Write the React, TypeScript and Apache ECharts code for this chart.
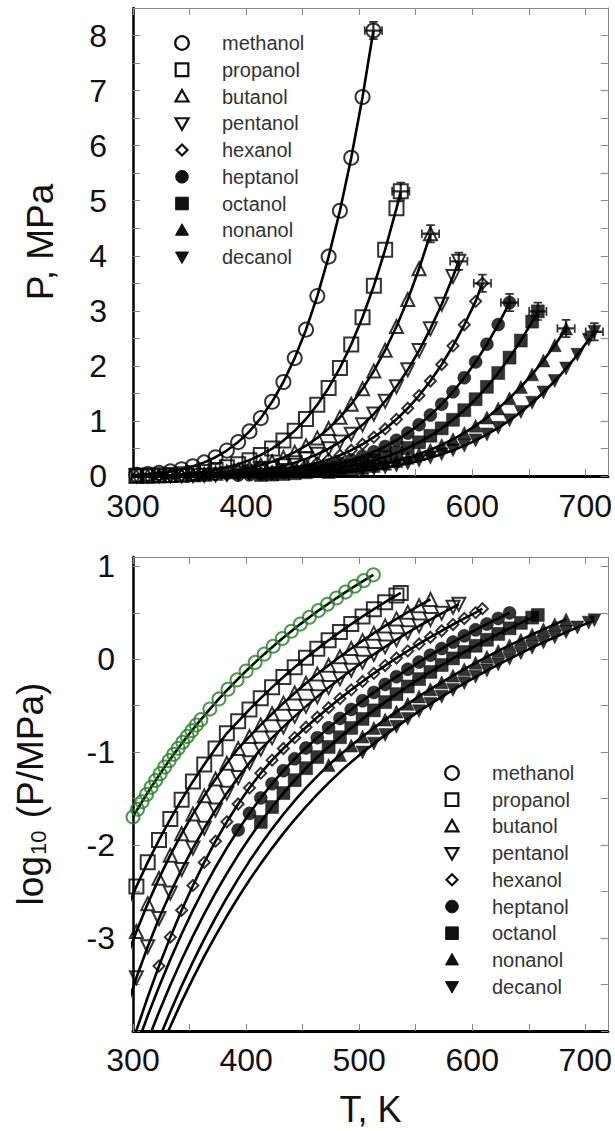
import React, { useEffect, useRef } from "react";
import * as echarts from "echarts";

// Temperature grid (K) shared by the tabulated vapour pressures below.
const tempGrid = [
  293, 303, 313, 323, 333, 343, 353, 363, 373, 383, 393, 403, 413, 423, 433, 443, 453, 463,
  473, 483, 493, 503, 513, 523, 533, 543, 553, 563, 573, 583, 593, 603, 613, 623, 633, 643,
  653, 663, 673, 683, 693, 703,
];

// Saturation pressure, MPa, on tempGrid (each list ends below its critical point).
const methanolP = [
  0.01424, 0.02321, 0.03668, 0.05633, 0.08431, 0.1233, 0.1764, 0.2474, 0.3408, 0.4619, 0.6161,
  0.8101, 1.051, 1.348, 1.707, 2.141, 2.658, 3.268, 3.984, 4.818, 5.78, 6.884,
];
const propanolP = [
  0.001877, 0.003584, 0.006522, 0.01136, 0.01906, 0.03086, 0.04844, 0.07386, 0.1098, 0.1595,
  0.2145, 0.288, 0.3814, 0.4983, 0.6428, 0.82, 1.035, 1.293, 1.6, 1.963, 2.388, 2.883, 3.454,
  4.11, 4.861,
];
const butanolP = [
  0.0005527, 0.001178, 0.002344, 0.00439, 0.007803, 0.01324, 0.02157, 0.03388, 0.05152, 0.07609,
  0.1095, 0.1472, 0.1965, 0.2588, 0.3368, 0.4329, 0.5503, 0.6924, 0.8628, 1.065, 1.304, 1.584,
  1.909, 2.284, 2.715, 3.206, 3.764,
];
const pentanolP = [
  0.0001587, 0.0003735, 0.0008074, 0.001622, 0.003061, 0.005466, 0.009303, 0.01517, 0.02385,
  0.03625, 0.05348, 0.07678, 0.1077, 0.1425, 0.1871, 0.2427, 0.3111, 0.3947, 0.4955, 0.6164,
  0.76, 0.9292, 1.127, 1.358, 1.623, 1.929, 2.278, 2.673, 3.12, 3.622,
];
const hexanolP = [
  0.0000418, 0.0001014, 0.0002317, 0.0005, 0.001023, 0.001991, 0.003681, 0.006516, 0.01102,
  0.01782, 0.02767, 0.0413, 0.05943, 0.08204, 0.1095, 0.1434, 0.1855, 0.2374, 0.3006, 0.377,
  0.4685, 0.5769, 0.7048, 0.8547, 1.029, 1.23, 1.461, 1.725, 2.025, 2.364, 2.746, 3.172,
];
const heptanolP = [
  0.00002965, 0.00006745, 0.0001459, 0.0002999, 0.0005888, 0.001107, 0.001995, 0.003459,
  0.005781, 0.009333, 0.01455, 0.02198, 0.03221, 0.04581, 0.06324, 0.08492, 0.111, 0.1431,
  0.1826, 0.2306, 0.2884, 0.3575, 0.4395, 0.5362, 0.6491, 0.78, 0.9318, 1.106, 1.304, 1.53,
  1.785, 2.072, 2.393, 2.751,
];
const octanolP = [
  0.00001652, 0.00003698, 0.00007889, 0.0001603, 0.0003126, 0.0005834, 0.00105, 0.00182,
  0.003055, 0.004955, 0.007816, 0.01194, 0.01778, 0.0257, 0.03631, 0.05, 0.0673, 0.08851,
  0.1139, 0.1448, 0.1824, 0.2278, 0.2818, 0.3459, 0.4213, 0.5095, 0.6117, 0.7302, 0.8658,
  1.021, 1.196, 1.395, 1.619, 1.87, 2.15, 2.46, 2.804,
];
const nonanolP = [
  0.00000826, 0.00001866, 0.00004009, 0.00008222, 0.0001614, 0.0003048, 0.0005546, 0.0009727,
  0.001652, 0.002716, 0.004335, 0.00673, 0.01016, 0.01496, 0.02148, 0.03013, 0.04121, 0.05534,
  0.07261, 0.09333, 0.1177, 0.1472, 0.1824, 0.2242, 0.2735, 0.3312, 0.3983, 0.4759, 0.565,
  0.6668, 0.7826, 0.914, 1.062, 1.227, 1.412, 1.618, 1.846, 2.098, 2.376,
];
const decanolP = [
  0.00000641, 0.00001403, 0.00002931, 0.00005848, 0.0001119, 0.000207, 0.0003681, 0.0006353,
  0.001062, 0.001726, 0.002729, 0.004207, 0.006324, 0.00929, 0.01337, 0.01884, 0.026, 0.03516,
  0.04677, 0.06109, 0.07834, 0.09908, 0.1235, 0.1527, 0.1873, 0.228, 0.2754, 0.3307, 0.3945,
  0.4677, 0.5514, 0.6466, 0.7542, 0.8752, 1.011, 1.163, 1.331, 1.518, 1.725, 1.952, 2.201,
  2.475,
];

// Denser methanol set used on the logarithmic panel.
const methanolDenseT = [
  300, 304, 308, 312, 316, 320, 324, 328, 332, 336, 340, 344, 348, 352, 356, 360, 368, 376, 384,
  392, 400, 408, 416, 424, 432, 440, 448, 456, 464, 472, 480, 488, 496, 504, 512.6,
];
const methanolDenseP = [
  0.02012, 0.02434, 0.02929, 0.0351, 0.04183, 0.04967, 0.05871, 0.06914, 0.08108, 0.09473,
  0.1103, 0.1279, 0.1478, 0.1703, 0.1956, 0.2239, 0.2911, 0.374, 0.4757, 0.599, 0.747, 0.9243,
  1.134, 1.381, 1.669, 2.002, 2.388, 2.83, 3.336, 3.907, 4.554, 5.283, 6.095, 7.003, 8.091,
];

// Critical points [T (K), P (MPa)].
const criticalPoints = [
  [512.6, 8.091],
  [536.8, 5.17],
  [563.1, 4.4],
  [588.1, 3.9],
  [609, 3.5],
  [633, 3.15],
  [658, 2.99],
  [683, 2.68],
  [708, 2.62],
];

// Lowest measured temperature of each data set (K).
const firstMeasuredT = [303, 303, 303, 303, 323, 393, 413, 473, 503];

const alcoholNames = [
  "methanol", "propanol", "butanol", "pentanol", "hexanol",
  "heptanol", "octanol", "nonanol", "decanol",
];
const pressureTables = [
  methanolP, propanolP, butanolP, pentanolP, hexanolP,
  heptanolP, octanolP, nonanolP, decanolP,
];

const FONT = '"Liberation Sans", Arial, Helvetica, sans-serif';
const DOWN_TRIANGLE = "path://M0,0L12,0L6,10.4Z";
const CROSS =
  "path://M8.8,0H11.2V20H8.8Z M0,8.8H20V11.2H0Z M5.5,0H14.5V1.8H5.5Z M5.5,18.2H14.5V20H5.5Z M0,5.5H1.8V14.5H0Z M18.2,5.5H20V14.5H18.2Z";

type MarkerStyle = { kind: string; hollow: boolean; size: number };
const markerStyles: MarkerStyle[] = [
  { kind: "circle", hollow: true, size: 14 },
  { kind: "square", hollow: true, size: 14 },
  { kind: "up", hollow: true, size: 13 },
  { kind: "down", hollow: true, size: 13 },
  { kind: "diamond", hollow: true, size: 11 },
  { kind: "circle", hollow: false, size: 13 },
  { kind: "square", hollow: false, size: 13 },
  { kind: "up", hollow: false, size: 13 },
  { kind: "down", hollow: false, size: 13 },
];

const GREEN = "#237f23";
const INK = "#000";

function echartsSymbol(kind: string) {
  if (kind === "circle") return "circle";
  if (kind === "square") return "rect";
  if (kind === "up") return "triangle";
  if (kind === "down") return DOWN_TRIANGLE;
  return "diamond";
}

function fullCurve(i: number): number[][] {
  const pts = pressureTables[i].map((p, k) => [tempGrid[k], p]);
  pts.push(criticalPoints[i]);
  return pts;
}

function measured(i: number): number[][] {
  return fullCurve(i).filter((d) => d[0] >= firstMeasuredT[i]);
}

const toLog = (pts: number[][]) => pts.map((d) => [d[0], Math.log10(d[1])]);

const isInt = (v: number) => Math.abs(v - Math.round(v)) < 1e-6;

function markerItemStyle(i: number, stroke: string) {
  return markerStyles[i].hollow
    ? { color: "transparent", borderColor: stroke, borderWidth: 2 }
    : { color: INK, borderColor: INK, borderWidth: 0.5 };
}

function legendGraphics(symbolX: number, textX: number, y0: number, step: number) {
  const els: any[] = [];
  alcoholNames.forEach((name, i) => {
    const cy = y0 + i * step;
    const st = markerStyles[i];
    const style = st.hollow
      ? { fill: "none", stroke: "#111", lineWidth: 2.2 }
      : { fill: "#111", stroke: "#111", lineWidth: 1 };
    const r = st.kind === "diamond" ? 5.5 : 6.5;
    if (st.kind === "circle") {
      els.push({ type: "circle", shape: { cx: symbolX, cy, r: st.hollow ? 6.8 : 6.3 }, style });
    } else if (st.kind === "square") {
      els.push({ type: "rect", shape: { x: symbolX - 6.3, y: cy - 6.3, width: 12.6, height: 12.6 }, style });
    } else if (st.kind === "up") {
      els.push({
        type: "polygon",
        shape: { points: [[symbolX, cy - 6.5], [symbolX + r, cy + 5], [symbolX - r, cy + 5]] },
        style,
      });
    } else if (st.kind === "down") {
      els.push({
        type: "polygon",
        shape: { points: [[symbolX - r, cy - 5], [symbolX + r, cy - 5], [symbolX, cy + 6.5]] },
        style,
      });
    } else {
      els.push({
        type: "polygon",
        shape: { points: [[symbolX, cy - r], [symbolX + r, cy], [symbolX, cy + r], [symbolX - r, cy]] },
        style,
      });
    }
    els.push({
      type: "text",
      x: textX,
      y: cy,
      style: {
        text: name,
        fontFamily: FONT,
        fontSize: 20,
        fill: "#333",
        verticalAlign: "middle",
        align: "left",
      },
    });
  });
  return els;
}

function buildOption() {
  const tickLabel = { fontFamily: FONT, fontSize: 32, color: "#111" };
  const thinFrame = { lineStyle: { color: "#888", width: 1 } };
  const innerTick = { show: true, inside: true, length: 7, lineStyle: { color: "#888", width: 1 } };

  const xMain = (gridIndex: number, margin: number) => ({
    type: "value",
    gridIndex,
    min: 300,
    max: 720,
    interval: 50,
    position: "bottom",
    axisLine: { show: true, onZero: false, lineStyle: { color: "#000", width: 3 } },
    axisTick: innerTick,
    splitLine: { show: false },
    axisLabel: {
      ...tickLabel,
      margin,
      formatter: (v: number) => (v % 100 === 0 && v <= 700 ? String(v) : ""),
    },
  });
  const xFrame = (gridIndex: number) => ({
    type: "value",
    gridIndex,
    min: 300,
    max: 720,
    interval: 50,
    position: "top",
    axisLine: { show: true, onZero: false, ...thinFrame },
    axisTick: innerTick,
    axisLabel: { show: false },
    splitLine: { show: false },
  });
  const yFrame = (gridIndex: number, min: number, max: number) => ({
    type: "value",
    gridIndex,
    min,
    max,
    interval: 0.5,
    position: "right",
    axisLine: { show: true, onZero: false, ...thinFrame },
    axisTick: innerTick,
    axisLabel: { show: false },
    splitLine: { show: false },
  });

  const series: any[] = [];

  // Upper panel: pressure on a linear scale (axes 0).
  alcoholNames.forEach((name, i) => {
    series.push({
      type: "line",
      name: name + " fit",
      xAxisIndex: 0,
      yAxisIndex: 0,
      data: fullCurve(i),
      showSymbol: false,
      lineStyle: { color: INK, width: 2.6 },
      silent: true,
      z: 2,
    });
    series.push({
      type: "scatter",
      name,
      xAxisIndex: 0,
      yAxisIndex: 0,
      data: measured(i),
      symbol: echartsSymbol(markerStyles[i].kind),
      symbolSize: markerStyles[i].size,
      itemStyle: markerItemStyle(i, INK),
      silent: true,
      z: 3,
    });
  });
  series.push({
    type: "scatter",
    name: "critical points",
    xAxisIndex: 0,
    yAxisIndex: 0,
    data: criticalPoints,
    symbol: CROSS,
    symbolSize: 19,
    itemStyle: { color: INK },
    silent: true,
    z: 4,
  });

  // Lower panel: log10 of pressure (axes 2).
  alcoholNames.forEach((name, i) => {
    const linePts =
      i === 0 ? toLog(methanolDenseT.map((t, k) => [t, methanolDenseP[k]])) : toLog(fullCurve(i));
    series.push({
      type: "line",
      name: name + " log fit",
      xAxisIndex: 2,
      yAxisIndex: 2,
      data: linePts,
      showSymbol: false,
      lineStyle: { color: INK, width: 2.6 },
      silent: true,
      z: 2,
    });
    series.push({
      type: "scatter",
      name: name + " log",
      xAxisIndex: 2,
      yAxisIndex: 2,
      data: i === 0 ? linePts : toLog(measured(i)),
      symbol: echartsSymbol(markerStyles[i].kind),
      symbolSize: i === 0 ? 13 : markerStyles[i].size,
      itemStyle: markerItemStyle(i, i === 0 ? GREEN : INK),
      silent: true,
      z: 3,
    });
  });

  return {
    animation: false,
    backgroundColor: "#fff",
    grid: [
      { left: 133, top: 8, width: 475, height: 468 },
      { left: 133, top: 557, width: 475, height: 474 },
    ],
    xAxis: [
      xMain(0, 14),
      xFrame(0),
      {
        ...xMain(1, 13),
        name: "T, K",
        nameLocation: "middle",
        nameGap: 60,
        nameTextStyle: { fontFamily: FONT, fontSize: 36, color: "#111" },
      },
      xFrame(1),
    ],
    yAxis: [
      {
        type: "value",
        gridIndex: 0,
        min: 0,
        max: 8.5,
        interval: 0.5,
        position: "left",
        axisLine: { show: true, onZero: false, lineStyle: { color: "#000", width: 2.5 } },
        axisTick: innerTick,
        splitLine: { show: false },
        axisLabel: {
          ...tickLabel,
          margin: 26,
          formatter: (v: number) => (isInt(v) && v <= 8 ? String(Math.round(v)) : ""),
        },
        name: "P, MPa",
        nameLocation: "middle",
        nameRotate: 90,
        nameGap: 74,
        nameTextStyle: { fontFamily: FONT, fontSize: 37, color: "#111" },
      },
      yFrame(0, 0, 8.5),
      {
        type: "value",
        gridIndex: 1,
        min: -4,
        max: 1.1,
        interval: 0.5,
        position: "left",
        axisLine: { show: true, onZero: false, lineStyle: { color: "#000", width: 2.5 } },
        axisTick: innerTick,
        splitLine: { show: false },
        axisLabel: {
          ...tickLabel,
          margin: 18,
          formatter: (v: number) => (isInt(v) && v >= -3 && v <= 1 ? String(Math.round(v)) : ""),
        },
        name: "{n|log}{s|10}{n| (P/MPa)}",
        nameLocation: "middle",
        nameRotate: 90,
        nameGap: 84,
        nameTextStyle: {
          fontFamily: FONT,
          color: "#111",
          rich: {
            n: { fontFamily: FONT, fontSize: 37, color: "#111", lineHeight: 42, verticalAlign: "bottom" },
            s: {
              fontFamily: FONT,
              fontSize: 22,
              color: "#111",
              lineHeight: 22,
              verticalAlign: "bottom",
              padding: [0, 2, 0, 1],
            },
          },
        },
      },
      yFrame(1, -4, 1.1),
    ],
    series,
    graphic: [
      ...legendGraphics(182, 222, 43, 26.75),
      ...legendGraphics(452, 492, 773, 26.7),
    ],
  };
}

export default function App() {
  const ref = useRef<HTMLDivElement>(null);
  useEffect(() => {
    if (!ref.current) return;
    const chart = echarts.init(ref.current, undefined, { renderer: "svg" });
    chart.setOption(buildOption() as any);
    return () => chart.dispose();
  }, []);
  return (
    <div
      ref={ref}
      style={{ position: "fixed", left: 0, top: 0, width: 615, height: 1131, background: "#fff" }}
    />
  );
}
